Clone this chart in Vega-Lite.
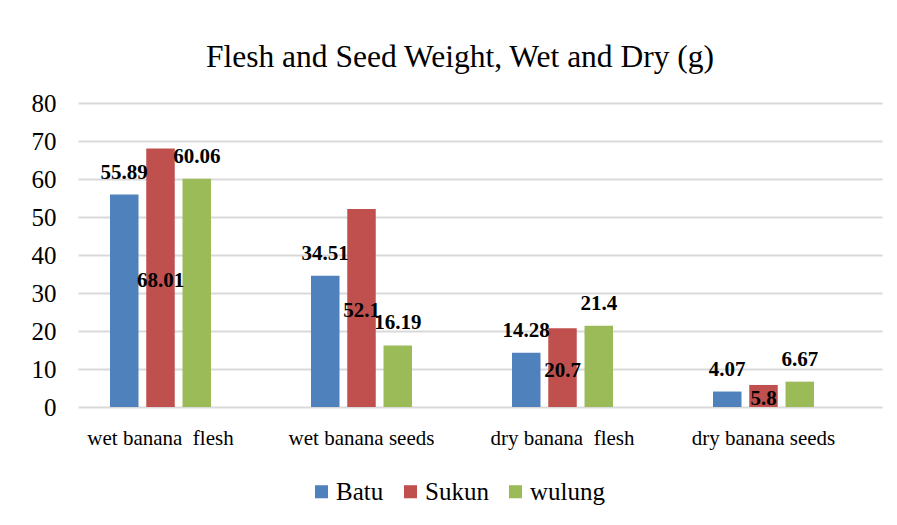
{
  "$schema": "https://vega.github.io/schema/vega-lite/v6.json",
  "width": 804,
  "height": 304,
  "autosize": "none",
  "padding": {"left": 78, "top": 103, "right": 15, "bottom": 118},
  "background": "white",
  "title": {
    "text": "Flesh and Seed Weight, Wet and Dry (g)",
    "font": "Liberation Serif",
    "fontSize": 31.5,
    "fontWeight": "normal",
    "color": "#000000",
    "anchor": "middle",
    "dx": -20,
    "offset": 18
  },
  "data": {
    "values": [
      {"category": "wet banana\u00a0 flesh", "variety": "Batu", "value": 55.89},
      {"category": "wet banana\u00a0 flesh", "variety": "Sukun", "value": 68.01},
      {"category": "wet banana\u00a0 flesh", "variety": "wulung", "value": 60.06},
      {"category": "wet banana seeds", "variety": "Batu", "value": 34.51},
      {"category": "wet banana seeds", "variety": "Sukun", "value": 52.1},
      {"category": "wet banana seeds", "variety": "wulung", "value": 16.19},
      {"category": "dry banana\u00a0 flesh", "variety": "Batu", "value": 14.28},
      {"category": "dry banana\u00a0 flesh", "variety": "Sukun", "value": 20.7},
      {"category": "dry banana\u00a0 flesh", "variety": "wulung", "value": 21.4},
      {"category": "dry banana seeds", "variety": "Batu", "value": 4.07},
      {"category": "dry banana seeds", "variety": "Sukun", "value": 5.8},
      {"category": "dry banana seeds", "variety": "wulung", "value": 6.67}
    ]
  },
  "encoding": {
    "x": {
      "field": "category",
      "type": "nominal",
      "sort": null,
      "scale": {"paddingInner": 0.4975, "paddingOuter": 0.24875, "align": 0.32},
      "axis": {"title": null}
    },
    "xOffset": {
      "field": "variety",
      "type": "nominal",
      "sort": ["Batu", "Sukun", "wulung"],
      "scale": {"paddingInner": 0.214, "paddingOuter": 0}
    },
    "y": {
      "field": "value",
      "type": "quantitative",
      "scale": {"domain": [0, 80], "nice": false},
      "axis": {"title": null, "values": [0, 10, 20, 30, 40, 50, 60, 70, 80]}
    }
  },
  "layer": [
    {
      "mark": {"type": "bar"},
      "encoding": {
        "color": {
          "field": "variety",
          "type": "nominal",
          "sort": ["Batu", "Sukun", "wulung"],
          "scale": {"domain": ["Batu", "Sukun", "wulung"], "range": ["#4F81BD", "#C0504D", "#9BBB59"]},
          "legend": {
            "title": null,
            "orient": "none",
            "direction": "horizontal",
            "legendX": 231,
            "legendY": 376
          }
        }
      }
    },
    {
      "transform": [{"filter": "datum.variety !== 'Sukun'"}],
      "mark": {
        "type": "text",
        "font": "Liberation Serif",
        "fontSize": 21,
        "fontWeight": "bold",
        "color": "#000000",
        "baseline": "alphabetic",
        "dy": -16
      },
      "encoding": {
        "text": {"field": "value", "type": "quantitative"}
      }
    },
    {
      "transform": [
        {"filter": "datum.variety === 'Sukun'"},
        {"calculate": "datum.value / 2", "as": "mid"}
      ],
      "mark": {
        "type": "text",
        "font": "Liberation Serif",
        "fontSize": 21,
        "fontWeight": "bold",
        "color": "#000000",
        "baseline": "middle",
        "dy": 3
      },
      "encoding": {
        "y": {
          "field": "mid",
          "type": "quantitative",
          "scale": {"domain": [0, 80], "nice": false},
          "axis": {"title": null, "values": [0, 10, 20, 30, 40, 50, 60, 70, 80]}
        },
        "text": {"field": "value", "type": "quantitative"}
      }
    }
  ],
  "config": {
    "view": {"stroke": null},
    "font": "Liberation Serif",
    "axisX": {
      "labelAngle": 0,
      "labelFont": "Liberation Serif",
      "labelFontSize": 21,
      "labelColor": "#000000",
      "labelPadding": 20,
      "domain": false,
      "ticks": false,
      "grid": false
    },
    "axisY": {
      "labelFont": "Liberation Serif",
      "labelFontSize": 25,
      "labelColor": "#000000",
      "labelPadding": 22,
      "labelOverlap": false,
      "domain": false,
      "ticks": false,
      "grid": true,
      "gridColor": "#d9d9d9",
      "gridWidth": 2
    },
    "legend": {
      "symbolType": "square",
      "symbolSize": 170,
      "symbolStrokeWidth": 0,
      "labelFont": "Liberation Serif",
      "labelFontSize": 25,
      "labelColor": "#000000",
      "labelOffset": 2,
      "columnPadding": 14
    }
  }
}
